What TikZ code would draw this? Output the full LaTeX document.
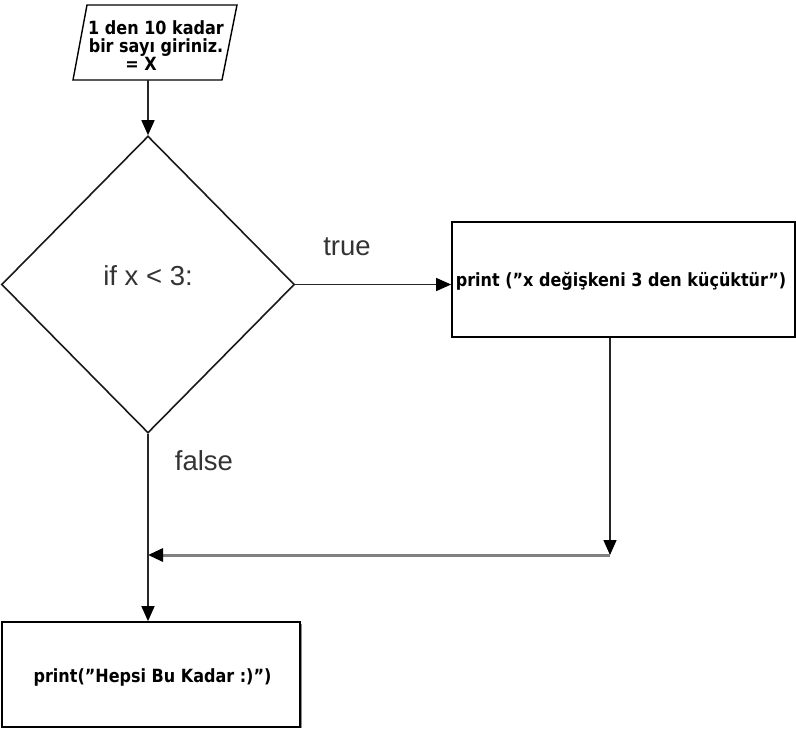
\documentclass[tikz,border=0pt]{standalone}
\usepackage{fontspec}
\setmainfont{DejaVu Sans}
\newfontfamily\boldfnt[FakeStretch=0.88]{DejaVu Sans Bold}
\newfontfamily\arialfont{Liberation Sans}
\usetikzlibrary{shapes.geometric,arrows.meta,calc}
\begin{document}
\begin{tikzpicture}[x=1pt,y=-1pt,
  boldtxt/.style={font=\boldfnt\fontsize{18.2}{18}\selectfont, text=black},
  lighttxt/.style={font=\arialfont\fontsize{27.5}{30}\selectfont, text=black!80},
  boxnode/.style={draw=black, line width=1.7pt, inner sep=0pt},
  conn/.style={draw=black!85, line width=1.4pt},
  tip/.style={-{Triangle[length=15pt,width=13pt,color=black]}},
  shadowline/.style={draw=black!45, line width=1.6pt},
]
\useasboundingbox (0,0) rectangle (796,729);
% input parallelogram
\draw[line width=1.4pt] (87,5) -- (237,5) -- (222,80) -- (73,80) -- cycle;
\node[boldtxt, align=center] (inp) at (156,46) {1 den 10 kadar\\bir sayı giriniz.\\= X\hspace*{30pt}};
\coordinate (inb) at (148,80);
% decision
\node[draw=black!90, line width=1.6pt, diamond, minimum width=293pt, minimum height=297pt, inner sep=0pt] (dec) at (148,284.5) {};
\node[lighttxt, anchor=base] (dectxt) at (148,285) {if x < 3:};
% boxes
\draw[shadowline] (301.5,624) -- (301.5,728);
\node[boxnode, minimum width=343pt, minimum height=115pt] (box1) at (623.5,279.5) {};
\node[boldtxt] (box1txt) at (621,281) {print (”x değişkeni 3 den küçüktür”)};
\node[boxnode, minimum width=298pt, minimum height=105pt] (box2) at (151,674.5) {};
\node[boldtxt] (box2txt) at (152.5,677) {print(”Hepsi Bu Kadar :)”)};
% labels
\node[lighttxt] (ltrue) at (347,247) {true};
\node[lighttxt] (lfalse) at (204,461) {false};
% joints
\coordinate (j1) at (610,555);
\coordinate (j2) at (148,555);
% connectors
\draw[conn, tip] (inb) -- (dec.north);
\draw[conn, tip] (dec.east) -- (dec.east -| box1.west);
\draw[conn, tip] (box1.south -| j1) -- (j1);
\draw[draw=black!50, line width=3pt, tip] (j1) -- (j2);
\draw[conn] (dec.south) -- (j2);
\draw[conn, tip] (j2) -- (j2 |- box2.north);
\end{tikzpicture}
\end{document}
